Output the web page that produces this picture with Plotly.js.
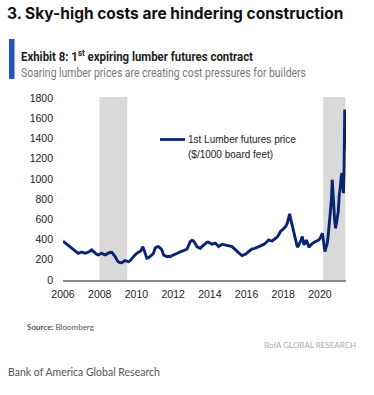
<!DOCTYPE html>
<html><head><meta charset="utf-8">
<script src="https://cdn.plot.ly/plotly-3.0.1.min.js"></script>
<style>html,body{margin:0;padding:0;background:#fff}#chart{width:374px;height:395px}</style>
</head><body><div id="chart"></div>
<script>
// Decimal years and 1st expiring lumber futures price ($/1000 board feet)
const years = [2006.00,2006.10,2006.20,2006.28,2006.40,2006.47,2006.56,2006.65,2006.75,2006.83,2006.92,
2007.00,2007.10,2007.20,2007.30,2007.38,2007.47,2007.56,2007.65,2007.74,2007.83,2007.92,
2008.00,2008.10,2008.20,2008.30,2008.40,2008.47,2008.56,2008.66,2008.75,2008.84,2008.92,
2009.00,2009.10,2009.20,2009.30,2009.38,2009.47,2009.56,2009.66,2009.75,2009.84,2009.93,
2010.02,2010.10,2010.20,2010.28,2010.35,2010.42,2010.48,2010.57,2010.66,2010.75,2010.84,2010.93,
2011.02,2011.10,2011.20,2011.30,2011.39,2011.48,2011.57,2011.66,2011.75,2011.84,2011.93,
2012.02,2012.10,2012.20,2012.30,2012.39,2012.48,2012.57,2012.66,2012.75,2012.84,2012.93,
2013.02,2013.10,2013.20,2013.30,2013.40,2013.48,2013.57,2013.66,2013.75,2013.85,2013.93,
2014.03,2014.12,2014.21,2014.30,2014.40,2014.48,2014.57,2014.67,2014.76,2014.85,2014.94,
2015.03,2015.12,2015.21,2015.30,2015.39,2015.49,2015.58,2015.67,2015.76,2015.85,2015.94,
2016.03,2016.12,2016.21,2016.30,2016.40,2016.49,2016.58,2016.67,2016.76,2016.85,2016.94,
2017.03,2017.12,2017.21,2017.30,2017.40,2017.49,2017.58,2017.67,2017.76,2017.85,2017.95,
2018.03,2018.13,2018.22,2018.30,2018.35,2018.40,2018.46,2018.52,2018.58,2018.63,2018.68,2018.73,2018.77,2018.83,2018.90,2018.97,
2019.04,2019.09,2019.13,2019.20,2019.26,2019.33,2019.40,2019.49,2019.58,2019.67,2019.76,2019.85,2019.94,
2020.03,2020.13,2020.18,2020.22,2020.27,2020.33,2020.40,2020.45,2020.49,2020.54,2020.58,2020.63,2020.67,2020.71,2020.76,2020.80,2020.85,2020.90,2020.95,
2021.00,2021.05,2021.10,2021.15,2021.20,2021.25,2021.28,2021.31,2021.35,2021.37];
const prices = [385,370,350,337,320,314,300,290,275,264,270,
277,270,265,270,274,285,297,280,265,255,248,
258,265,255,248,258,265,272,274,255,231,205,
181,172,171,182,191,186,181,191,215,231,248,
265,275,281,300,330,290,265,215,220,231,248,265,
314,325,330,315,297,248,240,231,235,231,240,
248,255,265,275,281,285,290,298,304,340,380,
392,389,360,330,320,314,330,347,365,374,374,
365,354,360,364,345,330,342,354,350,347,342,
337,334,330,315,297,281,268,254,241,248,254,
268,281,295,307,310,314,322,330,335,340,352,
364,380,396,390,386,400,413,425,450,480,495,
510,528,562,610,654,610,562,530,495,440,396,350,324,340,364,395,
429,390,347,370,396,360,324,345,364,372,380,388,396,
420,463,400,347,281,320,364,440,528,610,694,800,991,850,694,600,512,560,600,
677,842,900,1008,1057,960,859,1041,1685,1288];
const recessions = [[2007.98, 2009.50], [2020.18, 2021.38]];
const xTicks = [2006,2008,2010,2012,2014,2016,2018,2020];
const yTicks = [0,200,400,600,800,1000,1200,1400,1600,1800];
const seriesName = "1st Lumber futures price";
const seriesUnit = "($/1000 board feet)";

const L = 63, R = 28, T = 98, B = 115, W = 374, H = 395;
const pw = W - L - R, ph = H - T - B;
const px = v => (v - L) / pw;
const py = v => (H - B - v) / ph;

const shapes = recessions.map(r => ({type:'rect', xref:'x', yref:'paper', x0:r[0], x1:r[1], y0:0, y1:1.005,
  fillcolor:'#d9d9d9', line:{width:0}, layer:'below'}));
shapes.push({type:'line', xref:'paper', yref:'paper', x0:px(160), x1:px(185), y0:py(139.5), y1:py(139.5), line:{color:'#0a2472', width:2.8}});
shapes.push({type:'rect', xref:'paper', yref:'paper', x0:px(9), x1:px(14.5), y0:py(79), y1:py(39), fillcolor:'#2154c2', line:{width:0}});

const narrow = 'Roboto, "Liberation Sans", sans-serif';
const ann = (text, x, y, font, xanchor) => ({text, xref:'paper', yref:'paper', x:px(x), y:py(y), xanchor:xanchor||'left', yanchor:'middle', showarrow:false, font, align:'left'});
const annotations = [
  ann('<b>3. Sky-high costs are hindering construction</b>', 5, 13, {family:'Inter, "Open Sans", sans-serif', size:15.5, color:'#111'}),
  ann('<b>Exhibit 8: 1<sup>st</sup> expiring lumber futures contract</b>', 19, 56, {family:narrow, size:12.5, color:'#222'}),
  ann('Soaring lumber prices are creating cost pressures for builders', 19, 72.5, {family:narrow, size:12, color:'#777'}),
  ann(seriesName, 186, 139.5, {family:'"Liberation Sans", Arial, sans-serif', size:10, color:'#222'}),
  ann(seriesUnit, 186, 154, {family:'"Liberation Sans", Arial, sans-serif', size:10, color:'#222'}),
  ann('<b>Source:</b> Bloomberg', 25, 327, {family:'Lato, sans-serif', size:8, color:'#555'}),
  ann('BofA GLOBAL RESEARCH', 358, 345, {family:'Lato, sans-serif', size:8, color:'#aaa'}, 'right'),
  ann('Bank of America Global Research', 6, 372, {family:'Lato, "Open Sans", sans-serif', size:10.5, color:'#555'})
];

Plotly.newPlot('chart', [{
  x: years, y: prices, type:'scatter', mode:'lines', name: seriesName,
  line:{color:'#0a2472', width:2.9}, hoverinfo:'skip'
}], {
  width:W, height:H, margin:{l:L, r:R, t:T, b:B}, showlegend:false,
  paper_bgcolor:'#fff', plot_bgcolor:'#fff',
  xaxis:{range:[2006, 2021.42], tickvals:xTicks, ticktext:xTicks.map(String), showgrid:false, zeroline:false,
    showline:true, linecolor:'#8c8c8c', linewidth:1.5, ticks:'', ticklabelstandoff:4,
    tickfont:{family:'"Liberation Sans", Arial, sans-serif', size:10.5, color:'#222'}},
  yaxis:{range:[0, 1800], tickvals:yTicks, ticktext:yTicks.map(String), showgrid:false, zeroline:false,
    showline:false, ticks:'', ticklabelstandoff:9,
    tickfont:{family:'"Liberation Sans", Arial, sans-serif', size:10.5, color:'#222'}},
  shapes, annotations
}, {staticPlot:true, displayModeBar:false}).then(gd => {
  // condense the exhibit header texts to the narrow width of the original typeface
  const widths = {Exhibit: 232, Soaring: 285};
  gd.querySelectorAll('text.annotation-text').forEach(t => {
    const key = Object.keys(widths).find(k => t.textContent.startsWith(k));
    if (key) {
      t.setAttribute('textLength', widths[key]);
      t.setAttribute('lengthAdjust', 'spacingAndGlyphs');
    }
  });
});
</script></body></html>
